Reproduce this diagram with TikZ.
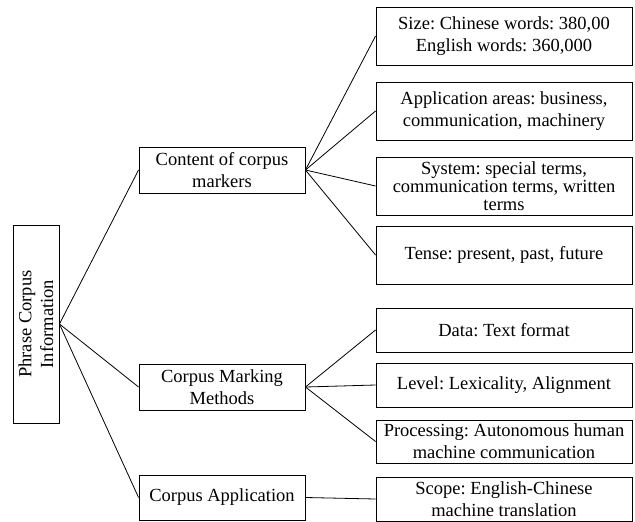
\documentclass[tikz,border=0pt]{standalone}
\usepackage{fontspec}
\setmainfont{Liberation Serif}
\frenchspacing
\begin{document}
\begin{tikzpicture}[x=1pt,y=-1pt,
  txt/.style={font=\fontsize{18.5}{21.7}\selectfont, align=center},
  box/.style={txt, draw, line width=0.9pt, inner sep=0pt},
  rootbox/.style={box, minimum width=46pt, minimum height=198pt},
  midbox/.style={box, minimum width=166pt, minimum height=46pt},
  leafbox/.style={box, minimum width=256pt},
  tight/.style={font=\fontsize{18.5}{18}\selectfont},
  link/.style={line width=0.8pt}]
\useasboundingbox (0,0) rectangle (635,522);

% root
\node[rootbox] (root) at (36,324) {};
\node[txt, rotate=90] (roottext) at (root.center) {Phrase Corpus\\Information};

% second level
\node[midbox] (content) at (222,170) {Content of corpus\\markers};
\node[midbox] (marking) at (222,387) {Corpus Marking\\Methods};
\node[midbox, minimum height=45pt] (appl) at (222,497.5) {Corpus Application};

% leaves
\node[leafbox, minimum height=58pt] (size) at (504,36) {Size: Chinese words: 380,00\\English words: 360,000};
\node[leafbox, minimum height=58pt] (areas) at (504,111) {Application areas: business,\\communication, machinery};
\node[leafbox, tight, minimum height=58pt] (system) at (504,186) {System: special terms,\\communication terms, written\\terms};
\node[leafbox, minimum height=58pt] (tense) at (504,255) {Tense: present, past, future};
\node[leafbox, minimum height=44pt] (data) at (504,330) {Data: Text format};
\node[leafbox, minimum height=44pt] (level) at (504,385) {Level: Lexicality, Alignment};
\node[leafbox, minimum height=43pt] (proc) at (504,441.5) {Processing: Autonomous human\\machine communication};
\node[leafbox, minimum height=44pt] (scope) at (504,499) {Scope: English-Chinese\\machine translation};

% connectors
\foreach \t in {content, marking, appl}
  \draw[link] (root.east) -- (\t.west);
\foreach \t in {size, areas, system, tense}
  \draw[link] (content.east) -- (\t.west);
\foreach \t in {data, level, proc}
  \draw[link] (marking.east) -- (\t.west);
\draw[link] (appl.east) -- (scope.west);
\end{tikzpicture}
\end{document}
